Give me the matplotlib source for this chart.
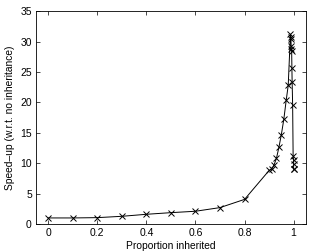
import matplotlib
matplotlib.use("Agg")
import matplotlib.pyplot as plt

plt.rcParams['font.family'] = ['Liberation Sans', 'DejaVu Sans']

proportion = [0, 0.1, 0.2, 0.3, 0.4, 0.5, 0.6, 0.7, 0.8,
              0.9, 0.91, 0.92, 0.93, 0.94, 0.95, 0.96, 0.97, 0.978,
              0.987, 0.988, 0.989, 0.990, 0.991, 0.992, 0.993,
              0.994, 0.996, 0.998,
              1.0, 1.0, 1.0, 1.0]
speedup = [1.0, 1.0, 1.05, 1.27, 1.6, 1.87, 2.1, 2.7, 4.05,
           8.8, 9.0, 9.7, 10.8, 12.6, 14.7, 17.2, 20.4, 22.8,
           31.2, 30.8, 30.4, 29.2, 28.8, 28.5, 25.6,
           23.3, 19.6, 11.2,
           10.5, 9.9, 9.0, 9.0]

x_ticks = [0, 0.2, 0.4, 0.6, 0.8, 1]
x_ticklabels = ['0', '0.2', '0.4', '0.6', '0.8', '1']
y_ticks = [0, 5, 10, 15, 20, 25, 30, 35]

fig = plt.figure(figsize=(3.12, 2.52), dpi=100)
ax = fig.add_axes([0.1154, 0.111, 0.865, 0.845])
ax.plot(proportion, speedup, color='black', linewidth=0.7, marker='x',
        markersize=4.5, markeredgewidth=0.7)
ax.set_xlim(-0.05, 1.05)
ax.set_ylim(0, 35)
ax.set_xticks(x_ticks)
ax.set_xticklabels(x_ticklabels)
ax.set_yticks(y_ticks)
ax.tick_params(direction='in', length=3, width=0.5, labelsize=7.5,
               top=True, right=True, pad=3)
for s in ax.spines.values():
    s.set_linewidth(0.6)
ax.set_xlabel('Proportion inherited', fontsize=7.4, labelpad=2)
ax.set_ylabel('Speed\u2013up (w.r.t. no inheritance)', fontsize=7.4, labelpad=4)
fig.savefig('out.png', dpi=100)
